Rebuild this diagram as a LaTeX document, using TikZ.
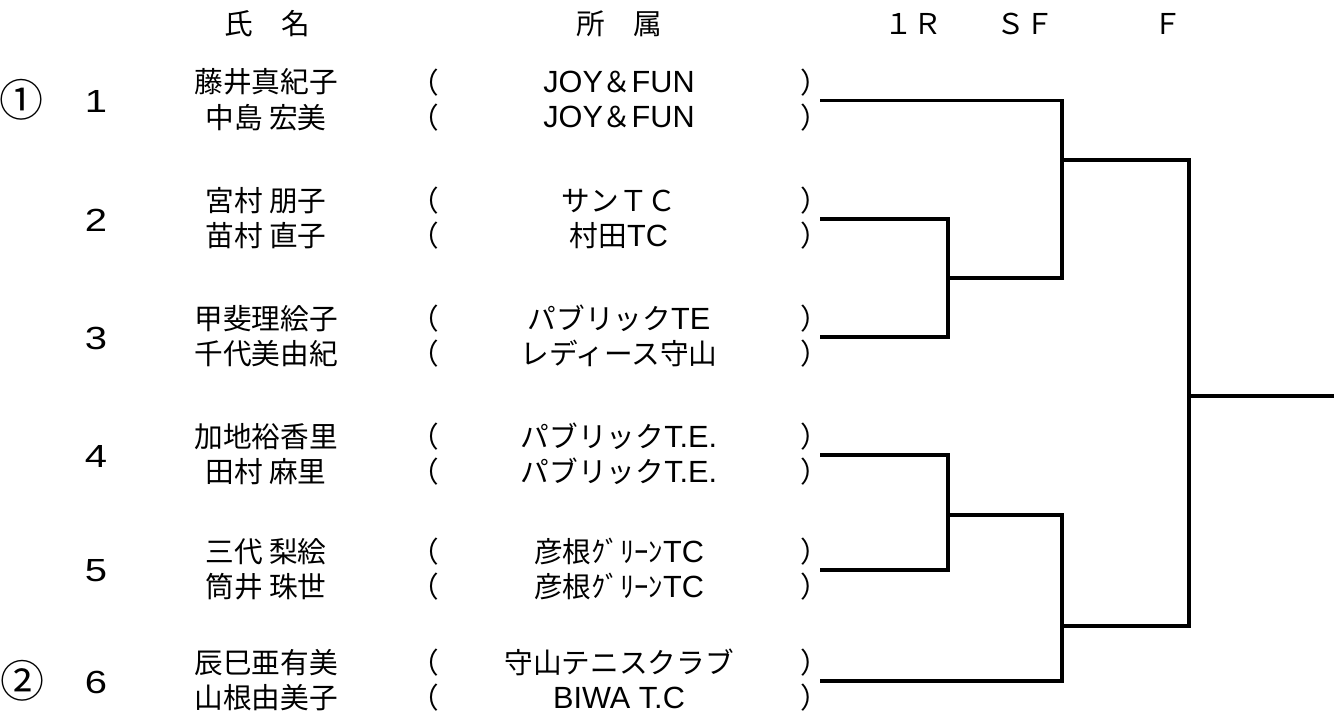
\documentclass[tikz,border=0pt]{standalone}
\usepackage{graphicx}
\usepackage{fontspec}
\setmainfont{Noto Sans CJK JP}
\newfontfamily\latfont{Liberation Sans}
\newcommand{\lt}[1]{{\latfont\fontsize{23pt}{24pt}\selectfont #1}}
\newcommand{\widenum}[1]{\scalebox{1.25}[1]{#1}}
\begin{document}
\begin{tikzpicture}[x=0.75pt,y=-0.75pt,
  txt/.style={inner sep=0pt,anchor=center,font=\fontsize{21.5pt}{24pt}\selectfont},
  numtxt/.style={inner sep=0pt,anchor=center,font=\latfont\fontsize{24pt}{26pt}\selectfont},
  seedtxt/.style={inner sep=0pt,anchor=center,font=\fontsize{33pt}{36pt}\selectfont},
  bline/.style={line width=2.4pt,line join=miter}]
\useasboundingbox (0,0) rectangle (1344,719);
% headers
\node[txt] (hname) at (267,24) {氏　名};
\node[txt] (haff) at (619,24) {所　属};
\node[txt] (h1r) at (913,24) {１Ｒ};
\node[txt] (hsf) at (1025,24) {ＳＦ};
\node[txt] (hf) at (1168,24) {Ｆ};
% seeds
\node[seedtxt] (seed1) at (21,100) {①};
\node[seedtxt] (seed2) at (23,681) {②};
% entries: number, names, parens, affiliations
\foreach \i/\L/\na/\nb/\aa/\ab in {
  1/100.7/藤井真紀子/中島 宏美/{\lt{JOY}＆\lt{FUN}}/{\lt{JOY}＆\lt{FUN}},
  2/219/宮村 朋子/苗村 直子/サンＴＣ/{村田\lt{TC}},
  3/337/甲斐理絵子/千代美由紀/{パブリック\lt{TE}}/レディース守山,
  4/455/加地裕香里/田村 麻里/{パブリック\lt{T.E.}}/{パブリック\lt{T.E.}},
  5/570/三代 梨絵/筒井 珠世/{彦根ｸﾞﾘｰﾝ\lt{TC}}/{彦根ｸﾞﾘｰﾝ\lt{TC}},
  6/681/辰巳亜有美/山根由美子/守山テニスクラブ/{\lt{BIWA T.C}}}{
  \node[numtxt] (num\i) at (96,\L+1) {\widenum{\i}};
  \node[txt] (na\i) at (266,\L-18.5) {\na};
  \node[txt] (nb\i) at (266,\L+16.5) {\nb};
  \node[txt] (pla\i) at (425,\L-18.5) {（};
  \node[txt] (plb\i) at (425,\L+16.5) {（};
  \node[txt] (aa\i) at (619,\L-18.5) {\aa};
  \node[txt] (ab\i) at (619,\L+16.5) {\ab};
  \node[txt] (pra\i) at (815,\L-18.5) {）};
  \node[txt] (prb\i) at (815,\L+16.5) {）};
  \coordinate (s\i) at (820,\L);
}
% bracket joints
\coordinate (m23) at (948,278);
\coordinate (m45) at (948,515);
\coordinate (sfTop) at (1062,160);
\coordinate (sfBot) at (1062,626);
\coordinate (fin) at (1189,396);
\coordinate (win) at (1334,396);
% bracket lines
\draw[bline] (s2) -| (m23) |- (s3);
\draw[bline] (s4) -| (m45) |- (s5);
\draw[bline] (s1) -| (sfTop) |- (m23);
\draw[bline] (s6) -| (sfBot) |- (m45);
\draw[bline] (sfTop) -| (fin) |- (sfBot);
\draw[bline] (fin) -- (win);
\end{tikzpicture}
\end{document}
